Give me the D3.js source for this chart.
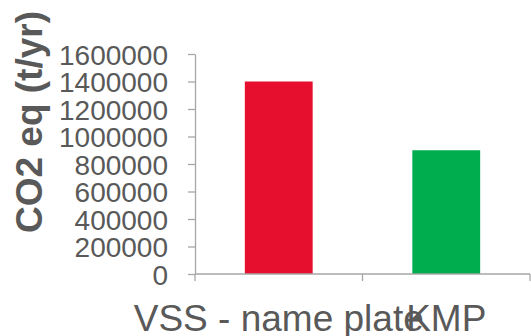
<!DOCTYPE html>
<html>
<head>
<meta charset="utf-8">
<script src="https://cdn.jsdelivr.net/npm/d3@7"></script>
<style>
  body { margin: 0; background: #fff; }
  svg text { font-family: "Liberation Sans", Arial, sans-serif; }
</style>
</head>
<body>
<div id="chart"></div>
<script>
// chart values
var categories = ["VSS - name plate", "KMP"];
var values = [1400000, 900000];
var bar_colors = ["#e60f2e", "#00ad4e"];
var y_ticks = [0, 200000, 400000, 600000, 800000, 1000000, 1200000, 1400000, 1600000];
var y_title = "CO2 eq (t/yr)";

var width = 531, height = 336;
var margin = { top: 54, right: 1, bottom: 62, left: 195 };
const plot_width = width - margin.left - margin.right,
    plot_height = height - margin.top - margin.bottom;

var svg = d3.select('#chart')
    .append('svg')
    .attr('width', width)
    .attr('height', height);

var plot = svg.append('g')
    .attr('transform', `translate(${margin.left},${margin.top})`);

var x = d3.scaleBand().domain(categories).range([0, plot_width]).paddingInner(0).paddingOuter(0);
var y = d3.scaleLinear().domain([0, 1600000]).range([plot_height, 0]);

var axis_color = "#a6a6a6", text_color = "#595959";

// bars
var bar_w = x.bandwidth() * 0.405;
plot.selectAll(".bar")
    .data(values)
    .enter().append("rect")
    .attr("class", "bar")
    .attr("x", function (d, i) { return x(categories[i]) + x.bandwidth() / 2 - bar_w / 2; })
    .attr("y", function (d) { return y(d); })
    .attr("width", bar_w)
    .attr("height", function (d) { return plot_height - y(d); })
    .attr("fill", function (d, i) { return bar_colors[i]; });

// y axis
var yAxis = d3.axisLeft(y).tickValues(y_ticks).tickFormat(d3.format("d")).tickSize(7).tickSizeOuter(0).tickPadding(20);
var gy = plot.append("g").attr("class", "y_axis").call(yAxis);
gy.select(".domain").attr("stroke", axis_color).attr("stroke-width", 1.3);
gy.selectAll(".tick line").attr("stroke", axis_color).attr("stroke-width", 1.3);
gy.selectAll(".tick text")
    .attr("fill", text_color)
    .style("font-size", "28px")
    .attr("dy", "0.36em");

// x axis
var x_edges = [0].concat(categories.map(function (c) { return x(c) + x.bandwidth(); }));
plot.append("line")
    .attr("x1", 0).attr("x2", plot_width)
    .attr("y1", plot_height).attr("y2", plot_height)
    .attr("stroke", axis_color).attr("stroke-width", 1.3);
plot.selectAll(".x_tick")
    .data(x_edges)
    .enter().append("line")
    .attr("class", "x_tick")
    .attr("x1", function (d) { return d; }).attr("x2", function (d) { return d; })
    .attr("y1", plot_height).attr("y2", plot_height + 7)
    .attr("stroke", axis_color).attr("stroke-width", 1.3);
plot.selectAll(".x_label")
    .data(categories)
    .enter().append("text")
    .attr("class", "x_label")
    .attr("x", function (d) { return x(d) + x.bandwidth() / 2; })
    .attr("y", plot_height + 57)
    .attr("text-anchor", "middle")
    .attr("fill", text_color)
    .style("font-size", "37px")
    .text(function (d) { return d; });

// y title
svg.append("text")
    .attr("transform", `translate(42,122) rotate(-90)`)
    .attr("text-anchor", "middle")
    .attr("fill", text_color)
    .style("font-size", "37px")
    .style("font-weight", "bold")
    .text(y_title);
</script>
</body>
</html>
